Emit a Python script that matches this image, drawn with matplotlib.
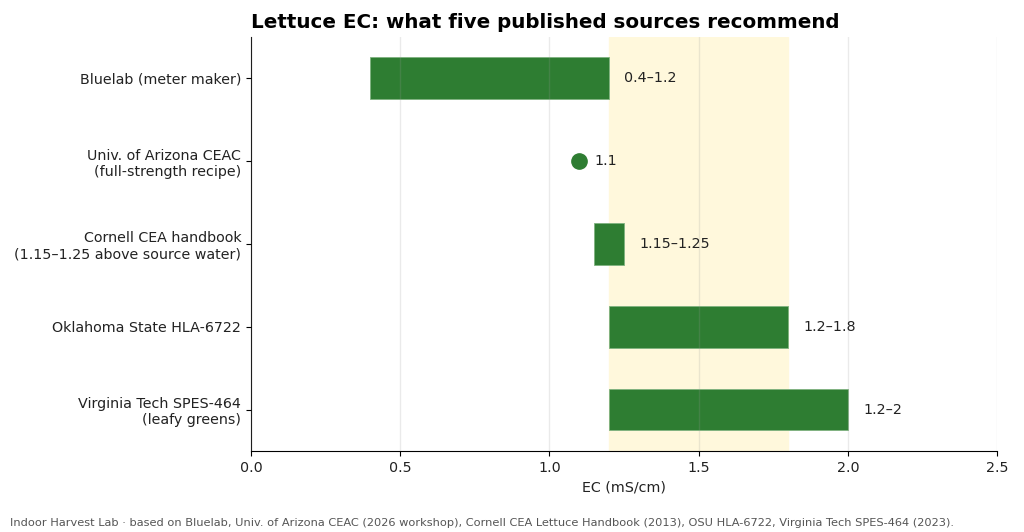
import matplotlib
matplotlib.use("Agg")
import matplotlib.pyplot as plt

sources = ["Bluelab (meter maker)",
           "Univ. of Arizona CEAC\n(full-strength recipe)",
           "Cornell CEA handbook\n(1.15\u20131.25 above source water)",
           "Oklahoma State HLA-6722",
           "Virginia Tech SPES-464\n(leafy greens)"]
ec_low = [0.4, 1.1, 1.15, 1.2, 1.2]
ec_high = [1.2, 1.1, 1.25, 1.8, 2.0]
labels = ["0.4\u20131.2", "1.1", "1.15\u20131.25", "1.2\u20131.8", "1.2\u20132"]
band = (1.2, 1.8)

green = "#2e7d32"

fig = plt.figure(figsize=(10.24, 5.32), dpi=100)
ax = fig.add_axes([0.245, 0.152, 0.729, 0.779])

ax.axvspan(band[0], band[1], color="#fff8dc", zorder=0)

for i, (lo, hi, lab) in enumerate(zip(ec_low, ec_high, labels)):
    if hi > lo:
        ax.barh(i, hi - lo, left=lo, height=0.5, color=green,
                edgecolor="#7fb27f", linewidth=0.6, zorder=2)
    else:
        ax.plot(lo, i, "o", color=green, markersize=11, zorder=3)
    ax.text(hi + 0.05, i, lab, va="center", ha="left", fontsize=10.3, color="#222222")

ax.set_yticks(range(len(sources)))
ax.set_yticklabels(sources, fontsize=10.3, color="#222222")
ax.tick_params(axis="x", labelsize=10.3, labelcolor="#222222")
ax.set_ylim(4.5, -0.5)
ax.set_xlim(0, 2.5)
ax.set_xlabel("EC (mS/cm)", fontsize=10.3, color="#222222")
ax.grid(axis="x", color="#999999", alpha=0.2, linewidth=1, zorder=4)
ax.set_axisbelow(False)
ax.spines["top"].set_visible(False)
ax.spines["right"].set_visible(False)
ax.set_title("Lettuce EC: what five published sources recommend",
             fontsize=14.3, fontweight="bold", loc="left")

fig.text(0.01, 0.012, "Indoor Harvest Lab \u00b7 based on Bluelab, Univ. of Arizona CEAC (2026 workshop), "
         "Cornell CEA Lettuce Handbook (2013), OSU HLA-6722, Virginia Tech SPES-464 (2023).",
         fontsize=8.2, color="#555555")

fig.savefig("out.png", dpi=100)
